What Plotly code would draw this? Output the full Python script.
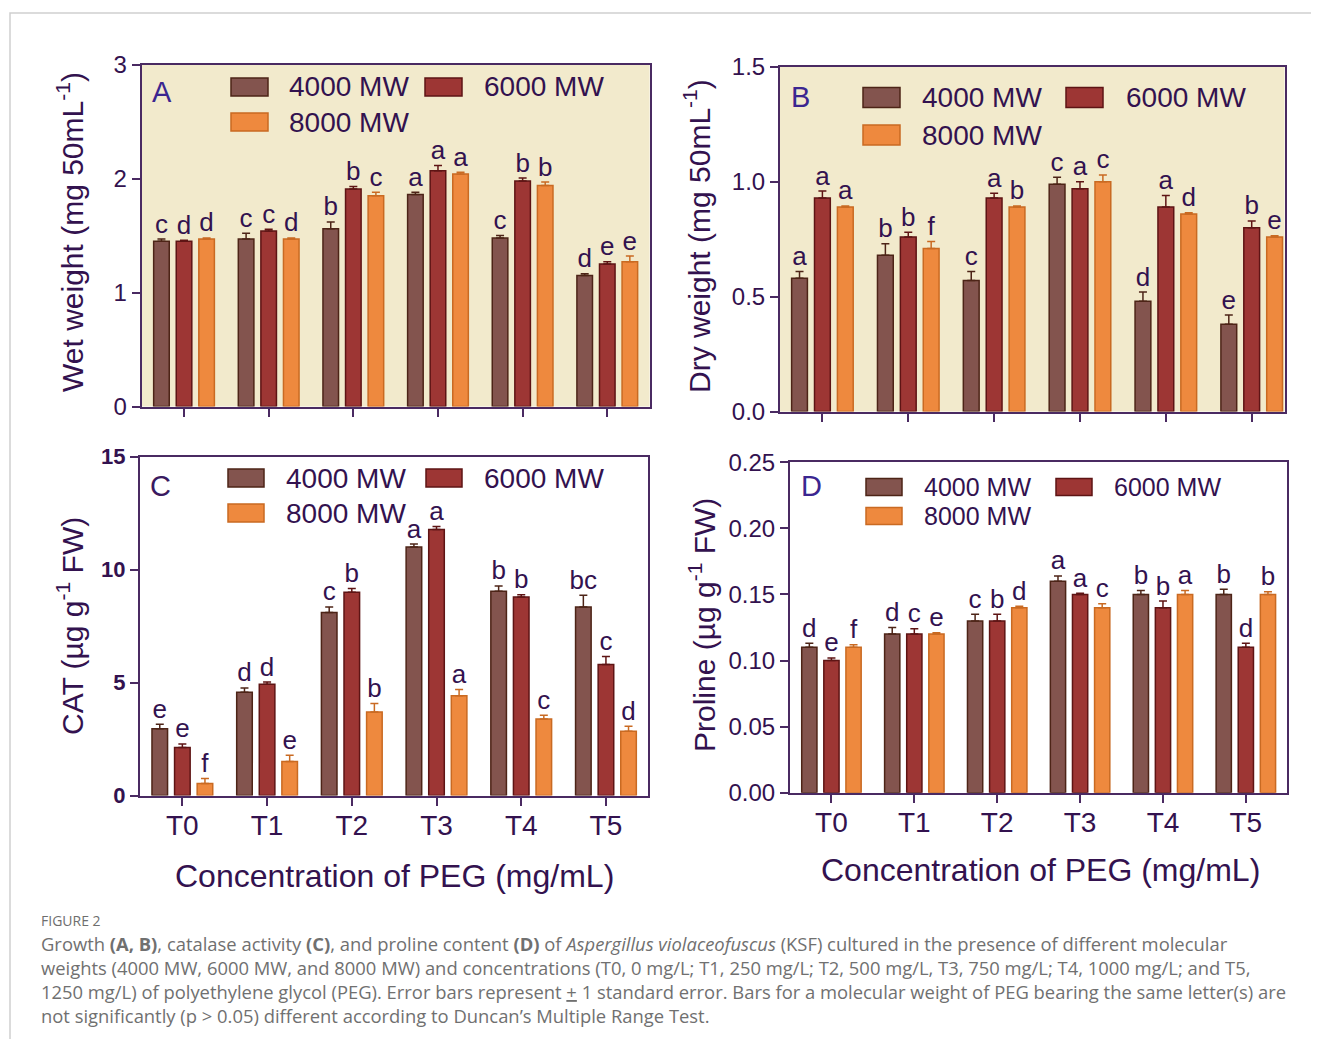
import plotly.graph_objects as go

# The page adds an 8 px body margin; the figure is sized so that the page is exactly 1319x1047.
PAGE_W, PAGE_H = 1319, 1047
OFF = 8
FW, FH = PAGE_W - 2 * OFF, PAGE_H - 2 * OFF

categories = ["T0", "T1", "T2", "T3", "T4", "T5"]
series_names = ["4000 MW", "6000 MW", "8000 MW"]
y_tick_A = [0, 1, 2, 3]
y_tick_B = [0.0, 0.5, 1.0, 1.5]
y_tick_C = [0, 5, 10, 15]
y_tick_D = [0.00, 0.05, 0.10, 0.15, 0.20, 0.25]

# Panel A: wet weight
wet_4000 = [1.45, 1.47, 1.56, 1.86, 1.48, 1.15]
wet_6000 = [1.45, 1.54, 1.91, 2.07, 1.98, 1.25]
wet_8000 = [1.47, 1.47, 1.85, 2.04, 1.94, 1.27]
wet_err_4000 = [0.02, 0.05, 0.06, 0.02, 0.02, 0.015]
wet_err_6000 = [0.01, 0.015, 0.02, 0.045, 0.025, 0.02]
wet_err_8000 = [0.01, 0.01, 0.03, 0.015, 0.03, 0.05]
wet_let_4000 = ["c", "c", "b", "a", "c", "d"]
wet_let_6000 = ["d", "c", "b", "a", "b", "e"]
wet_let_8000 = ["d", "d", "c", "a", "b", "e"]

# Panel B: dry weight
dry_4000 = [0.58, 0.68, 0.57, 0.99, 0.48, 0.38]
dry_6000 = [0.93, 0.76, 0.93, 0.97, 0.89, 0.80]
dry_8000 = [0.89, 0.71, 0.89, 1.00, 0.86, 0.76]
dry_err_4000 = [0.03, 0.05, 0.04, 0.03, 0.04, 0.04]
dry_err_6000 = [0.03, 0.02, 0.02, 0.03, 0.05, 0.03]
dry_err_8000 = [0.005, 0.03, 0.005, 0.03, 0.005, 0.005]
dry_let_4000 = ["a", "b", "c", "c", "d", "e"]
dry_let_6000 = ["a", "b", "a", "a", "a", "b"]
dry_let_8000 = ["a", "f", "b", "c", "d", "e"]

# Panel C: catalase
cat_4000 = [2.96, 4.57, 8.10, 11.00, 9.04, 8.35]
cat_6000 = [2.12, 4.92, 9.00, 11.78, 8.79, 5.80]
cat_8000 = [0.53, 1.50, 3.70, 4.42, 3.39, 2.85]
cat_err_4000 = [0.20, 0.19, 0.25, 0.13, 0.24, 0.52]
cat_err_6000 = [0.16, 0.10, 0.16, 0.13, 0.10, 0.35]
cat_err_8000 = [0.22, 0.28, 0.37, 0.27, 0.16, 0.22]
cat_let_4000 = ["e", "d", "c", "a", "b", "bc"]
cat_let_6000 = ["e", "d", "b", "a", "b", "c"]
cat_let_8000 = ["f", "e", "b", "a", "c", "d"]

# Panel D: proline
pro_4000 = [0.110, 0.120, 0.130, 0.160, 0.150, 0.150]
pro_6000 = [0.100, 0.120, 0.130, 0.150, 0.140, 0.110]
pro_8000 = [0.110, 0.120, 0.140, 0.140, 0.150, 0.150]
pro_err_4000 = [0.003, 0.005, 0.005, 0.004, 0.003, 0.004]
pro_err_6000 = [0.002, 0.004, 0.005, 0.001, 0.005, 0.003]
pro_err_8000 = [0.002, 0.001, 0.001, 0.003, 0.003, 0.002]
pro_let_4000 = ["d", "d", "c", "a", "b", "b"]
pro_let_6000 = ["e", "c", "b", "a", "b", "d"]
pro_let_8000 = ["f", "e", "d", "c", "a", "b"]

FILLS = ["#83544e", "#9d3634", "#ee893e"]
EDGES = ["#4d2417", "#5e1414", "#c96a22"]
TXT = "#33124f"
AXC = "#4a2a62"
FONT = "Arial, Liberation Sans, sans-serif"


def px(x):
    return (x - OFF) / FW


def py(y):
    return 1 - (y - OFF) / FH


panels = [
    dict(ax="", vals=[wet_4000, wet_6000, wet_8000], errs=[wet_err_4000, wet_err_6000, wet_err_8000],
         lets=[wet_let_4000, wet_let_6000, wet_let_8000]),
    dict(ax="2", vals=[dry_4000, dry_6000, dry_8000], errs=[dry_err_4000, dry_err_6000, dry_err_8000],
         lets=[dry_let_4000, dry_let_6000, dry_let_8000]),
    dict(ax="3", vals=[cat_4000, cat_6000, cat_8000], errs=[cat_err_4000, cat_err_6000, cat_err_8000],
         lets=[cat_let_4000, cat_let_6000, cat_let_8000]),
    dict(ax="4", vals=[pro_4000, pro_6000, pro_8000], errs=[pro_err_4000, pro_err_6000, pro_err_8000],
         lets=[pro_let_4000, pro_let_6000, pro_let_8000]),
]

fig = go.Figure()
for p in panels:
    xa, ya = "x" + p["ax"], "y" + p["ax"]
    for j in range(3):
        fig.add_trace(go.Bar(
            x=categories, y=p["vals"][j], name=series_names[j], xaxis=xa, yaxis=ya,
            marker=dict(color=FILLS[j], line=dict(color=EDGES[j], width=1.5)),
            error_y=dict(type="data", array=p["errs"][j], arrayminus=[0] * 6, symmetric=False,
                         color=EDGES[j], thickness=1.5, width=4),
            showlegend=False, hoverinfo="skip"))
    for j in range(3):
        tops = [v + e for v, e in zip(p["vals"][j], p["errs"][j])]
        fig.add_trace(go.Scatter(
            x=categories, y=tops, mode="text", text=p["lets"][j], textposition="top center",
            textfont=dict(size=26, color=TXT, family=FONT), xaxis=xa, yaxis=ya,
            showlegend=False, cliponaxis=False, hoverinfo="skip"))

axis_common = dict(showline=True, linecolor=AXC, linewidth=2, mirror=True, showgrid=False,
                   zeroline=False, ticks="outside", ticklen=8, tickwidth=2, tickcolor=AXC,
                   automargin=False)

layout = dict(
    width=FW, height=FH, margin=dict(l=0, r=0, t=0, b=0, pad=0, autoexpand=False),
    paper_bgcolor="white", plot_bgcolor="white",
    barmode="group", bargap=0.2, bargroupgap=0.31,
    scattermode="group", scattergap=0.2,
    font=dict(family=FONT, color=TXT),
    showlegend=False,
)

# plot-area boxes in page pixels: (left, right, top, bottom)
boxes = {
    "": (141.7, 649.6, 64.7, 406.5),
    "2": (780, 1284.5, 67, 411.5),
    "3": (140, 648.3, 456.7, 795.5),
    "4": (790, 1287.3, 462.3, 792.7),
}
xranges = {"": [-0.5, 5.5], "2": [-0.494, 5.382], "3": [-0.5, 5.5], "4": [-0.5, 5.5]}
yranges = {"": [0, 3], "2": [0, 1.5], "3": [0, 15], "4": [0, 0.25]}
yticks = {"": y_tick_A, "2": y_tick_B, "3": y_tick_C, "4": y_tick_D}
yfmt = {"": "d", "2": ".1f", "3": "d", "4": ".2f"}
ytickfont = {"": dict(size=24), "2": dict(size=24),
             "3": dict(size=22, weight="bold"), "4": dict(size=24)}

for k, (x0, x1, y0, y1) in boxes.items():
    layout["xaxis" + k] = dict(axis_common, domain=[px(x0), px(x1)], anchor="y" + k, type="category",
                               range=xranges[k], showticklabels=k in ("3", "4"),
                               tickfont=dict(size=28, color=TXT), ticklabelstandoff=-4)
    layout["yaxis" + k] = dict(axis_common, domain=[py(y1), py(y0)], anchor="x" + k, range=yranges[k],
                               tickvals=yticks[k], tickformat=yfmt[k],
                               tickfont=dict(color=TXT, **ytickfont[k]))

fig.update_layout(**layout)

shapes = []
annotations = []

# beige plot backgrounds for A and B
for k in ("", "2"):
    x0, x1, y0, y1 = boxes[k]
    shapes.append(dict(type="rect", xref="paper", yref="paper", x0=px(x0), x1=px(x1), y0=py(y1), y1=py(y0),
                       fillcolor="#f2eacc", line=dict(width=0), layer="below"))

# outer frame
shapes.append(dict(type="rect", xref="paper", yref="paper", x0=px(10), y0=py(13), x1=1.05, y1=-0.05,
                   line=dict(color="#cfcfcf", width=1.5), fillcolor="rgba(0,0,0,0)"))

# custom legends: swatch x (col 1, col 2), row centres, text starts
legends = [
    dict(c1=231, c2=425, w=37, r1=87, r2=122, h=18, t1=287, t2=482, fs=28),
    dict(c1=863, c2=1066, w=37, r1=97.5, r2=135, h=20, t1=920, t2=1124, fs=28),
    dict(c1=228, c2=426, w=36, r1=478, r2=513, h=18, t1=284, t2=482, fs=28),
    dict(c1=866, c2=1056, w=36, r1=487, r2=516, h=17, t1=922, t2=1112, fs=25),
]
for lg in legends:
    spots = [(lg["c1"], lg["r1"], lg["t1"]), (lg["c2"], lg["r1"], lg["t2"]), (lg["c1"], lg["r2"], lg["t1"])]
    for j, (sx, sy, tx) in enumerate(spots):
        shapes.append(dict(type="rect", xref="paper", yref="paper", x0=px(sx), x1=px(sx + lg["w"]),
                           y0=py(sy + lg["h"] / 2), y1=py(sy - lg["h"] / 2),
                           fillcolor=FILLS[j], line=dict(color=EDGES[j], width=1.5)))
        annotations.append(dict(xref="paper", yref="paper", x=px(tx), y=py(sy), text=series_names[j],
                                showarrow=False, xanchor="left", yanchor="middle",
                                font=dict(size=lg["fs"], color=TXT, family=FONT)))

# panel letters
for letter, lx, ly, col in [("A", 150, 92, "#3b2690"), ("B", 789, 97, "#3b2690"),
                            ("C", 148, 486, "#3a1a60"), ("D", 799, 486, "#3b2690")]:
    annotations.append(dict(xref="paper", yref="paper", x=px(lx), y=py(ly), text=letter, showarrow=False,
                            xanchor="left", yanchor="middle", font=dict(size=29, color=col, family=FONT)))

# axis titles
for txt, tx, ty in [("Wet weight (mg 50mL<sup>-1</sup>)", 70, 232),
                    ("Dry weight (mg 50mL<sup>-1</sup>)", 697, 236),
                    ("CAT (µg g<sup>-1</sup> FW)", 70, 626),
                    ("Proline (µg g<sup>-1</sup> FW)", 702, 625)]:
    annotations.append(dict(xref="paper", yref="paper", x=px(tx), y=py(ty), text=txt, showarrow=False,
                            textangle=-90, xanchor="center", yanchor="middle",
                            font=dict(size=30, color=TXT, family=FONT)))
for tx, ty in [(395, 876), (1040, 870)]:
    annotations.append(dict(xref="paper", yref="paper", x=px(tx), y=py(ty),
                            text="Concentration of PEG (mg/mL)", showarrow=False,
                            xanchor="center", yanchor="middle", font=dict(size=32, color=TXT, family=FONT)))

# caption
CAPF = "Open Sans, Lato, sans-serif"
annotations.append(dict(xref="paper", yref="paper", x=px(39), y=py(920), text="FIGURE 2", showarrow=False,
                        xanchor="left", yanchor="middle", font=dict(size=14, color="#6e6e6e", family=CAPF)))
caption_lines = [
    "Growth <b>(A, B)</b>, catalase activity <b>(C)</b>, and proline content <b>(D)</b> of <i>Aspergillus violaceofuscus</i> (KSF) cultured in the presence of different molecular",
    "weights (4000 MW, 6000 MW, and 8000 MW) and concentrations (T0, 0 mg/L; T1, 250 mg/L; T2, 500 mg/L, T3, 750 mg/L; T4, 1000 mg/L; and T5,",
    "1250 mg/L) of polyethylene glycol (PEG). Error bars represent <u>+</u> 1 standard error. Bars for a molecular weight of PEG bearing the same letter(s) are",
    "not significantly (p > 0.05) different according to Duncan’s Multiple Range Test.",
]
for i, line in enumerate(caption_lines):
    annotations.append(dict(xref="paper", yref="paper", x=px(39), y=py(943 + 24 * i), text=line,
                            showarrow=False, xanchor="left", yanchor="middle",
                            font=dict(size=18.4, color="#707070", family=CAPF)))

fig.update_layout(shapes=shapes, annotations=annotations)
fig.write_html("out.html")
